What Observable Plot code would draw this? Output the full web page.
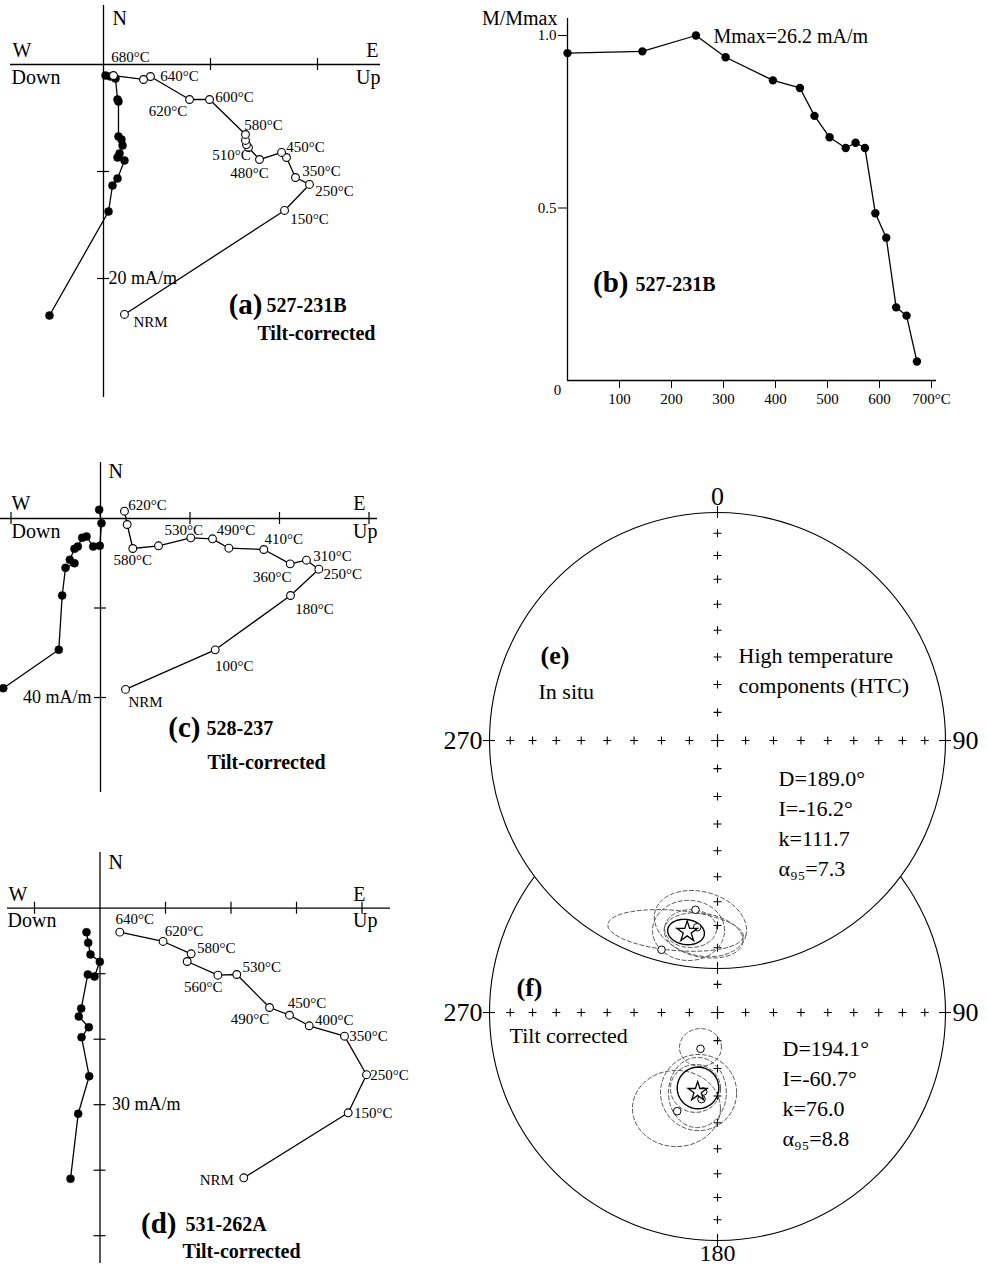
<!DOCTYPE html>
<html><head><meta charset="utf-8">
<script src="https://cdn.jsdelivr.net/npm/d3@7"></script>
<script src="https://cdn.jsdelivr.net/npm/@observablehq/plot@0.6"></script>
<style>
body{margin:0;background:#fff;}
#fig{position:relative;width:988px;height:1267px;overflow:hidden;background:#fff;}
#fig svg{position:absolute;left:0;top:0;overflow:visible;}
</style></head><body><div id="fig"></div>
<script>
// ================= DATA =================
// (a) 527-231B  (mA/m) — horizontal projection (open): E, N ; vertical projection (filled): Up, N
const aTemp = ["NRM","150°C","250°C","350°C","","450°C","480°C","510°C","","","580°C","600°C","620°C","640°C","","680°C"];
const aHorE = [1.96,16.92,19.25,17.94,17.10,16.64,14.58,13.55,13.36,13.27,13.27,9.91,8.04,4.39,3.74,0.93];
const aHorN = [-23.36,-13.64,-11.21,-10.56,-8.69,-8.22,-8.88,-7.76,-7.48,-7.10,-6.54,-3.27,-3.27,-1.12,-1.40,-1.03];
const aVerU = [-5.05,0.47,0.84,1.31,1.96,1.31,1.50,1.78,1.68,1.40,1.40,1.31,1.12,0.65,0.19];
const aVerN = [-23.46,-13.74,-11.31,-10.65,-8.97,-8.69,-8.32,-7.57,-7.01,-6.73,-3.46,-3.27,-1.31,-1.12,-1.03];
const aXTicks = [10,20], aYTicks = [-10,-20];

// (b) 527-231B demagnetization curve
const bTemp  = [0,144,247,304,395,447,475,504,535,554,572,592,613,632,652,672];
const bRatio = [0.949,0.954,1.0,0.937,0.870,0.848,0.767,0.705,0.674,0.689,0.674,0.485,0.414,0.212,0.188,0.055];
const bXTicks = [100,200,300,400,500,600,700];
const bYTicks = [0.5,1.0];

// (c) 528-237
const cTemp = ["NRM","100°C","180°C","250°C","310°C","360°C","410°C","","490°C","530°C","","580°C","","620°C"];
const cHorE = [5.59,25.63,42.46,48.79,46.03,42.39,36.49,28.68,25.03,20.18,12.96,7.22,5.96,5.36];
const cHorN = [-38.19,-29.35,-17.21,-11.33,-9.32,-10.13,-6.93,-6.64,-4.54,-4.32,-6.10,-6.70,-1.34,1.63];
const cVerU = [-21.74,-9.32,-8.56,-7.82,-5.81,-6.86,-5.81,-5.07,-4.09,-3.13,-1.63,-0.16,0.22,-0.29];
const cVerN = [-37.92,-29.34,-17.21,-11.02,-9.99,-9.23,-6.77,-6.26,-4.31,-4.02,-6.26,-6.10,-1.05,1.94];
const cXTicks = [-20,20,40,60], cYTicks = [-20,-40];

// (d) 531-262A
const dTemp = ["NRM","150°C","250°C","350°C","400°C","450°C","490°C","530°C","","560°C","580°C","620°C","640°C"];
const dHorE = [21.95,37.89,40.69,37.33,31.94,28.93,25.88,20.88,18.00,13.31,13.92,9.63,3.02];
const dHorN = [-41.16,-31.24,-25.42,-19.54,-17.95,-16.34,-15.16,-10.12,-10.23,-8.14,-6.96,-5.08,-3.66];
const dVerU = [-4.50,-3.33,-1.65,-2.82,-1.71,-3.24,-2.87,-1.86,-0.84,-0.03,-1.45,-1.80,-2.06];
const dVerN = [-41.31,-31.39,-25.65,-19.69,-18.17,-16.53,-15.31,-10.12,-10.43,-8.18,-7.07,-5.28,-3.66];
const dXTicks = [-10,10,20,30,40], dYTicks = [-10,-20,-30,-40,-50];

// (e)/(f) equal-area nets: mean directions and statistics
const netIncTicks = [10,20,30,40,50,60,70,80];
const meanD = [189.0,194.1], meanI = [-16.2,-60.7], meanK = [111.7,76.0], meanA95 = [7.3,8.8];
// site directions (net units)
const eSiteX = [-0.0965,-0.2456,-0.089], eSiteY = [-0.7425,-0.918,-0.819];
const fSiteX = [-0.0746,-0.1768,-0.0627,-0.0702], fSiteY = [-0.1592,-0.4329,-0.3465,-0.380];
// confidence ellipses: centre x, centre y, semi-axes, rotation (deg) ; last one = mean
const eEllX = [-0.184,-0.075,-0.127,-0.118,-0.061,-0.138];
const eEllY = [-0.833,-0.803,-0.833,-0.825,-0.855,-0.840];
const eEllRx = [0.298,0.206,0.158,0.114,0.175,0.081];
const eEllRy = [0.088,0.140,0.132,0.083,0.096,0.055];
const eEllRot = [-5,-15,0,0,-10,-8];
const fEllX = [-0.0746,-0.180,-0.083,-0.088,-0.0965,-0.0855];
const fEllY = [-0.1535,-0.421,-0.351,-0.351,-0.333,-0.331];
const fEllRx = [0.092,0.193,0.167,0.127,0.110,0.0912];
const fEllRy = [0.083,0.167,0.167,0.154,0.105,0.0912];
const fEllRot = [0,0,0,0,0,0];

// ================= LAYOUT / STYLE =================
const W = 988, H = 1267;
const SERIF = "'Liberation Serif','Times New Roman',Times,serif";
const fig = document.getElementById("fig");
// temperature-label offsets (px) relative to their points
const aLdx = [26,25,25,26,0,24,-10,-17,0,0,18,25,-21.5,29,0,17];
const aLdy = [8,9,7,-6,0,-5,14,8,0,0,-9,-2,12,0,0,-18];
const cLdx = [20,19,24,24,26,-18,20,0,23.5,-7,0,0,0,23];
const cLdy = [13,16,14,5,-4,13,-10,0,-9,-8,0,12,0,-6];
const dLdx = [-27,25,23,24,25,17.5,-19.5,25,0,16,25,21,15];
const dLdy = [2,0,0,0,-6,-12,12,-7,0,26,-6,-10,-13];

function mount(svg){ fig.appendChild(svg); }
function baseStyle(){ return {background:"transparent", fontFamily:SERIF, fontSize:"15px", overflow:"visible", position:"absolute", left:"0px", top:"0px"}; }
function noteMaker(mL, mT){
  return (txt, px, py, o={}) => Plot.text([txt], Object.assign({frameAnchor:"top-left", dx:px-mL, dy:py-mT, text:d=>d,
    lineAnchor:"middle", textAnchor:"start", fontFamily:SERIF, fontSize:20, fill:"black"}, o));
}

// ---------- Zijderveld panel ----------
function zij(c){
  const [fx0,fx1,fy0,fy1] = c.frame, [ox,oy] = c.origin, k = c.k;
  const mL = fx0, mR = W-fx1, mT = fy0, mB = H-fy1;
  const t = 6/k;
  const hor = c.horE.map((e,i)=>({x:e, y:c.horN[i], label:c.temps[i], dx:c.ldx[i], dy:c.ldy[i]}));
  const ver = c.verU.map((u,i)=>({x:u, y:c.verN[i]}));
  const note = noteMaker(mL, mT);
  const marks = [
    Plot.ruleX([0],{stroke:"black",strokeWidth:1.3}),
    Plot.ruleY([0],{stroke:"black",strokeWidth:1.3}),
    Plot.ruleX(c.xTicks,{x:d=>d,y1:-t,y2:t,stroke:"black",strokeWidth:1.2}),
    Plot.ruleY(c.yTicks,{y:d=>d,x1:-t,x2:t,stroke:"black",strokeWidth:1.2}),
    Plot.line(ver,{x:"x",y:"y",stroke:"black",strokeWidth:1.3}),
    Plot.line(hor,{x:"x",y:"y",stroke:"black",strokeWidth:1.3}),
    Plot.dot(ver,{x:"x",y:"y",r:4,fill:"black",stroke:"black",strokeWidth:0.5}),
    Plot.dot(hor,{x:"x",y:"y",r:3.9,fill:"white",stroke:"black",strokeWidth:1.1}),
    ...hor.filter(d=>d.label).map(d=>Plot.text([d],{x:"x",y:"y",text:"label",dx:d.dx,dy:d.dy,
      fontFamily:SERIF,fontSize:15,lineAnchor:"middle",textAnchor:"middle",fill:"black"})),
    Plot.text([c.scaleLabel],{x:0,y:c.scaleAt,text:d=>d,dx:c.scaleDx,textAnchor:c.scaleAnchor,lineAnchor:"middle",fontFamily:SERIF,fontSize:18}),
    ...c.notes.map(n=>note(...n))
  ];
  return Plot.plot({width:W,height:H,marginLeft:mL,marginRight:mR,marginTop:mT,marginBottom:mB,
    x:{domain:[(fx0-ox)/k,(fx1-ox)/k],axis:null}, y:{domain:[(oy-fy1)/k,(oy-fy0)/k],axis:null},
    style:baseStyle(), marks});
}

// (a)
mount(zij({frame:[10,380,5,397], origin:[103,64], k:10.7,
  horE:aHorE, horN:aHorN, verU:aVerU, verN:aVerN, temps:aTemp, ldx:aLdx, ldy:aLdy,
  xTicks:aXTicks, yTicks:aYTicks, scaleLabel:"20 mA/m", scaleAt:-20, scaleDx:5, scaleAnchor:"start",
  notes:[["N",112,18],["W",12,50],["E",378,50,{textAnchor:"end"}],["Down",11,77],["Up",380,77,{textAnchor:"end"}],
    ["(a)",262,304,{textAnchor:"end",fontWeight:"bold",fontSize:29}],["527-231B",266,305,{fontWeight:"bold"}],
    ["Tilt-corrected",375,333,{textAnchor:"end",fontWeight:"bold"}]]}));

// (c)
mount(zij({frame:[0,377,462,792], origin:[100,518], k:4.475,
  horE:cHorE, horN:cHorN, verU:cVerU, verN:cVerN, temps:cTemp, ldx:cLdx, ldy:cLdy,
  xTicks:cXTicks, yTicks:cYTicks, scaleLabel:"40 mA/m", scaleAt:-40, scaleDx:-9, scaleAnchor:"end",
  notes:[["N",108,471],["W",11,503],["E",365,503,{textAnchor:"end"}],["Down",11,531],["Up",377,531,{textAnchor:"end"}],
    ["(c)",200,727,{textAnchor:"end",fontWeight:"bold",fontSize:29}],["528-237",206,728,{fontWeight:"bold"}],
    ["Tilt-corrected",207,762,{fontWeight:"bold"}]]}));

// (d)
mount(zij({frame:[7,390,852,1263], origin:[99.5,907.7], k:6.55,
  horE:dHorE, horN:dHorN, verU:dVerU, verN:dVerN, temps:dTemp, ldx:dLdx, ldy:dLdy,
  xTicks:dXTicks, yTicks:dYTicks, scaleLabel:"30 mA/m", scaleAt:-30, scaleDx:12, scaleAnchor:"start",
  notes:[["N",108,862],["W",8,894],["E",365,894,{textAnchor:"end"}],["Down",7,920],["Up",377,920,{textAnchor:"end"}],
    ["(d)",176,1223,{textAnchor:"end",fontWeight:"bold",fontSize:29}],["531-262A",185,1224,{fontWeight:"bold"}],
    ["Tilt-corrected",182,1251,{fontWeight:"bold"}]]}));

// (b)
(function(){
  const ox=567, oy=380, kx=0.52, ky=345, fx1=936, fy0=18;
  const mL=ox, mT=fy0;
  const note = noteMaker(mL, mT);
  const pts = bTemp.map((t,i)=>({t, m:bRatio[i]}));
  mount(Plot.plot({width:W,height:H,marginLeft:ox,marginRight:W-fx1,marginTop:fy0,marginBottom:H-oy,
    x:{domain:[0,(fx1-ox)/kx],ticks:bXTicks,tickSize:8,tickPadding:5,tickFormat:d=>d===700?"700°C":String(d),label:null},
    y:{domain:[0,(oy-fy0)/ky],ticks:bYTicks,tickSize:9,tickPadding:2,tickFormat:d=>d.toFixed(1),label:null},
    style:baseStyle(),
    marks:[
      Plot.ruleX([0],{stroke:"black",strokeWidth:1.3}),
      Plot.ruleY([0],{stroke:"black",strokeWidth:1.3}),
      Plot.line(pts,{x:"t",y:"m",stroke:"black",strokeWidth:1.3}),
      Plot.dot(pts,{x:"t",y:"m",r:4.2,fill:"black"}),
      note("M/Mmax",557,18,{textAnchor:"end"}),
      note("Mmax=26.2 mA/m",713,36),
      note("0",557,390,{textAnchor:"middle",fontSize:15}),
      note("(b)",628,282,{textAnchor:"end",fontWeight:"bold",fontSize:29}),
      note("527-231B",635,284,{fontWeight:"bold"})
    ]}));
})();

// ---------- equal-area nets ----------
const rad = Math.PI/180;
function ea(inc){ return Math.SQRT2*Math.sin((90-Math.abs(inc))/2*rad); }
function ellipse(id,cx,cy,rx,ry,rot){
  const out=[], r=rot*rad;
  for(let a=0;a<=360;a+=4){
    const u=rx*Math.cos(a*rad), v=ry*Math.sin(a*rad);
    out.push({id, x:cx+u*Math.cos(r)-v*Math.sin(r), y:cy+u*Math.sin(r)+v*Math.cos(r)});
  }
  return out;
}
function net(c){
  const R=c.R, [cx,cy]=c.center, mL=cx-R, mT=cy-R;
  const t=6/R;
  const rho=netIncTicks.map(ea);
  const crosses=[...rho.map(r=>[r,0]),...rho.map(r=>[-r,0]),...rho.map(r=>[0,r]),...rho.map(r=>[0,-r])];
  const n=c.ex.length;
  let dash=[]; for(let i=0;i<n-1;i++) dash=dash.concat(ellipse(i,c.ex[i],c.ey[i],c.erx[i],c.ery[i],c.erot[i]));
  const meanE=ellipse(n-1,c.ex[n-1],c.ey[n-1],c.erx[n-1],c.ery[n-1],c.erot[n-1]);
  const sites=c.sx.map((x,i)=>({x,y:c.sy[i]}));
  const D=meanD[c.idx], I=meanI[c.idx], p=ea(I);
  const mean=[{x:p*Math.sin(D*rad), y:p*Math.cos(D*rad)}];
  const note=noteMaker(mL,mT);
  const T=(txt,x,y,o)=>Plot.text([txt],Object.assign({x,y,text:d=>d,fontFamily:SERIF,fontSize:26,lineAnchor:"middle",fill:"black"},o));
  const lab={ "0":T("0",0,1,{dy:-16}), "180":T("180",0,-1,{dy:13,fontSize:24}),
              "90":T("90",1,0,{dx:7,textAnchor:"start"}), "270":T("270",-1,0,{dx:-7,textAnchor:"end"}) };
  const stats=[`D=${meanD[c.idx].toFixed(1)}°`,`I=${meanI[c.idx].toFixed(1)}°`,`k=${meanK[c.idx].toFixed(1)}`,`α₉₅=${meanA95[c.idx].toFixed(1)}`];
  return Plot.plot({width:W,height:H,marginLeft:mL,marginRight:W-(cx+R),marginTop:mT,marginBottom:H-(cy+R),
    x:{domain:[-1,1],axis:null}, y:{domain:[-1,1],axis:null}, style:baseStyle(),
    marks:[
      Plot.dot([0],{x:0,y:0,r:R,fill:c.cover?"white":"none",stroke:"black",strokeWidth:1.1}),
      Plot.ruleX([1,-1],{x:0,y1:d=>d-t,y2:d=>d+t,stroke:"black",strokeWidth:1.1}),
      Plot.ruleY([1,-1],{y:0,x1:d=>d-t,x2:d=>d+t,stroke:"black",strokeWidth:1.1}),
      Plot.dot(crosses,{x:d=>d[0],y:d=>d[1],symbol:"plus",r:2.7,stroke:"black",strokeWidth:1.1}),
      Plot.dot([[0,0]],{x:d=>d[0],y:d=>d[1],symbol:"plus",r:4.2,stroke:"black",strokeWidth:1.2}),
      Plot.line(dash,{x:"x",y:"y",z:"id",stroke:"#555",strokeWidth:1,strokeDasharray:"4,2.5"}),
      Plot.line(meanE,{x:"x",y:"y",stroke:"black",strokeWidth:1.4}),
      Plot.dot(sites,{x:"x",y:"y",r:3.8,fill:"white",stroke:"black",strokeWidth:1}),
      Plot.dot(mean,{x:"x",y:"y",symbol:"star",r:c.starR,fill:"white",stroke:"black",strokeWidth:1.3}),
      ...c.edge.map(k=>lab[k]),
      ...c.notes.map(n=>note(...n)),
      ...stats.map((s,i)=>note(s,c.statsX,c.statsY+30*i,{fontSize:22}))
    ]});
}
// (f) first, then (e) on top (its white disc hides the overlapped arc of (f))
mount(net({idx:1, center:[717,1012], R:228, cover:false, starR:6,
  sx:fSiteX, sy:fSiteY, ex:fEllX, ey:fEllY, erx:fEllRx, ery:fEllRy, erot:fEllRot,
  edge:["90","180","270"], statsX:782, statsY:1048,
  notes:[["(f)",516,987,{fontWeight:"bold",fontSize:26}],["Tilt corrected",509,1035,{fontSize:22}]]}));
mount(net({idx:0, center:[717,740], R:228, cover:true, starR:6.5,
  sx:eSiteX, sy:eSiteY, ex:eEllX, ey:eEllY, erx:eEllRx, ery:eEllRy, erot:eEllRot,
  edge:["0","90","270"], statsX:778, statsY:778,
  notes:[["(e)",540,655,{fontWeight:"bold",fontSize:26}],["In situ",538,691,{fontSize:22}],
    ["High temperature",738,655,{fontSize:22}],["components (HTC)",738,685,{fontSize:22}]]}));
</script></body></html>
